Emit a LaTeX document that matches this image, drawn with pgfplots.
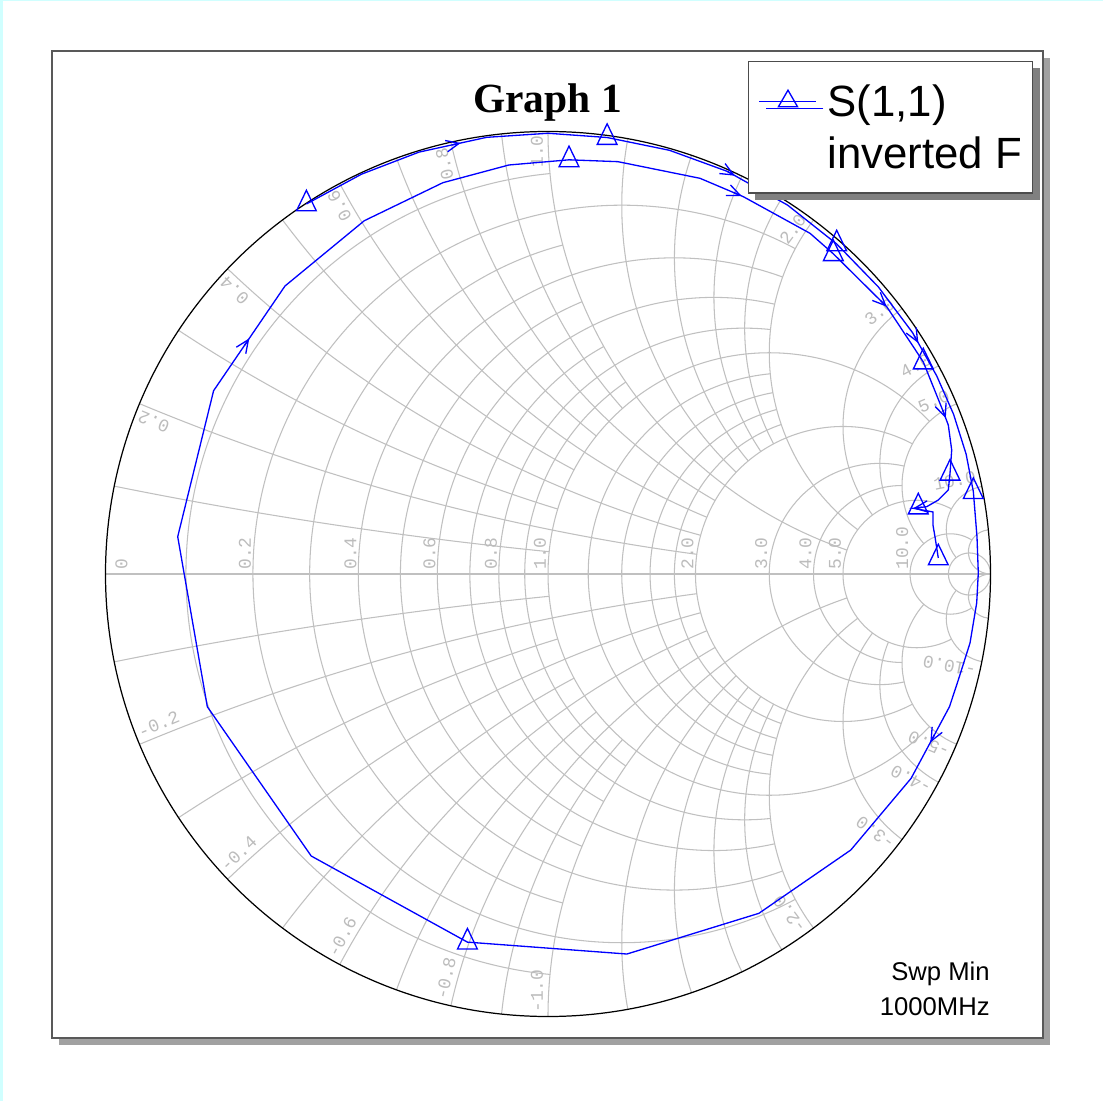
\documentclass[border=0pt]{standalone}
\usepackage{fontspec}
\setmainfont{Liberation Sans}
\newfontfamily\serifb{Liberation Serif}
\newfontfamily\monof{Liberation Mono}
\usepackage{pgfplots}
\pgfplotsset{compat=1.18}
\usetikzlibrary{arrows.meta,shadows}
\definecolor{gridc}{RGB}{192,192,192}
\definecolor{labc}{RGB}{188,188,188}
\definecolor{cyanl}{RGB}{208,255,255}
\definecolor{blueline}{RGB}{0,0,255}
\newcommand{\U}{8.85cm}
\tikzset{grd/.style={draw=gridc, line width=0.6pt},
  rlab/.style={font=\monof\fontsize{10.2}{12}\selectfont, text=labc, inner xsep=0.08cm, inner ysep=0.03cm},
  xlab/.style={font=\monof\fontsize{10.2}{12}\selectfont, text=labc, inner xsep=0.07cm, inner ysep=0.09cm}}
% resistance circle r truncated at |x|<=xm
\newcommand{\Rc}[2]{\draw[grd] (axis cs:{#1/(1+#1)+cos(180-2*atan(#2/(1+#1)))/(1+#1)},{sin(180-2*atan(#2/(1+#1)))/(1+#1)}) arc[start angle={180-2*atan(#2/(1+#1))}, end angle={180+2*atan(#2/(1+#1))}, radius={\U/(1+#1)}];}
\newcommand{\RcF}[1]{\draw[grd] (axis cs:{#1/(1+#1)},0) circle[radius={\U/(1+#1)}];}
% reactance arcs +-x truncated at r<=rm
\newcommand{\Xa}[2]{%
\draw[grd] (axis cs:{1+cos(270-2*atan(#1))/#1},{1/#1+sin(270-2*atan(#1))/#1}) arc[start angle={270-2*atan(#1)}, end angle={270-2*atan(#1/(1+#2))}, radius={\U/#1}];
\draw[grd] (axis cs:{1+cos(90+2*atan(#1))/#1},{-1/#1+sin(90+2*atan(#1))/#1}) arc[start angle={90+2*atan(#1)}, end angle={90+2*atan(#1/(1+#2))}, radius={\U/#1}];}
\newcommand{\XaF}[1]{%
\draw[grd] (axis cs:{1+cos(270-2*atan(#1))/#1},{1/#1+sin(270-2*atan(#1))/#1}) arc[start angle={270-2*atan(#1)}, end angle=270, radius={\U/#1}];
\draw[grd] (axis cs:{1+cos(90+2*atan(#1))/#1},{-1/#1+sin(90+2*atan(#1))/#1}) arc[start angle={90+2*atan(#1)}, end angle=90, radius={\U/#1}];}
\newcommand{\RL}[2]{\node[rlab, rotate=90, anchor=south west] at (axis cs:{#1},0) {#2};}
\newcommand{\XL}[2]{%
\node[xlab, rotate={180-2*atan(#1)}, anchor=south east] at (axis cs:{cos(180-2*atan(#1))},{sin(180-2*atan(#1))}) {#2};
\node[xlab, rotate={2*atan(#1)}, anchor=south west] at (axis cs:{cos(180+2*atan(#1))},{sin(180+2*atan(#1))}) {-#2};}
\begin{document}
\begin{tikzpicture}
\fill[black!37] (0.14,-0.14) rectangle (19.96,19.60);
\begin{axis}[
  at={(0,0)}, anchor=south west,
  x=8.85cm, y=8.85cm,
  xmin=-1.12090, xmax=1.11864, ymin=-1.04859, ymax=1.18192,
  xtick=\empty, ytick=\empty,
  axis line style={draw=black!65, line width=0.8pt},
  axis background/.style={fill=white},
  legend cell align=left,
  legend style={at={(0.70202,0.99018)}, anchor=north west, draw=black!70, line width=0.7pt, fill=white,
    font=\fontsize{24.9}{29}\selectfont,
    inner xsep=0.21cm, inner ysep=0.306cm, row sep=0.048cm, column sep=0.21cm,
    nodes={inner sep=0pt, text height=0.8cm, text depth=0.186cm},
    drop shadow={shadow xshift=0.14cm, shadow yshift=-0.14cm, fill=black!50, opacity=1}},
]
% ---- Smith chart grid ----
\Rc{0.1}{1}\Rc{0.2}{2}\Rc{0.3}{1}\Rc{0.4}{2}\Rc{0.5}{1}\Rc{0.6}{2}\Rc{0.7}{1}\Rc{0.8}{2}\Rc{0.9}{1}
\Rc{1}{5}\Rc{1.2}{2}\Rc{1.4}{2}\Rc{1.6}{2}\Rc{1.8}{2}\Rc{2}{5}\Rc{3}{5}\Rc{4}{5}\Rc{5}{10}\Rc{10}{20}\RcF{20}
\Xa{0.1}{1}\Xa{0.2}{2}\Xa{0.3}{1}\Xa{0.4}{2}\Xa{0.5}{1}\Xa{0.6}{2}\Xa{0.7}{1}\Xa{0.8}{2}\Xa{0.9}{1}
\Xa{1}{5}\Xa{1.2}{2}\Xa{1.4}{2}\Xa{1.6}{2}\Xa{1.8}{2}\Xa{2}{5}\Xa{3}{5}\Xa{4}{5}\Xa{5}{10}\Xa{10}{20}\XaF{20}
\draw[grd] (axis cs:-1,0) -- (axis cs:1,0);
\draw[black, line width=0.7pt] (axis cs:0,0) circle[radius=\U];
\RL{-0.946}{0}\RL{-0.66667}{0.2}\RL{-0.42857}{0.4}\RL{-0.25}{0.6}\RL{-0.11111}{0.8}\RL{0}{1.0}
\RL{0.33333}{2.0}\RL{0.5}{3.0}\RL{0.6}{4.0}\RL{0.66667}{5.0}\RL{0.81818}{10.0}
\XL{0.2}{0.2}\XL{0.4}{0.4}\XL{0.6}{0.6}\XL{0.8}{0.8}\XL{1}{1.0}\XL{2}{2.0}\XL{3}{3.0}\XL{4}{4.0}\XL{5}{5.0}\XL{10}{10.0}
% ---- S(1,1) trace ----
\addplot[blueline, line width=0.75pt, mark=none,
  legend image code/.code={\draw[mark=triangle, mark size=6.3pt, mark repeat=2, mark phase=2] plot coordinates {(0cm,0cm) (0.57cm,0cm) (1.14cm,0cm)};}]
table {
x y
-0.5460 0.8362
-0.4213 0.9036
-0.2915 0.9534
-0.1387 0.9868
0.0000 0.9960
0.1336 0.9864
0.2745 0.9575
0.4051 0.9099
0.5413 0.8337
0.6524 0.7458
0.7464 0.6489
0.8239 0.5453
0.8785 0.4476
0.9165 0.3610
0.9449 0.2709
0.9612 0.1862
0.9695 0.0836
0.9724 0.0023
0.9688 -0.0655
0.9537 -0.1559
0.9272 -0.2395
0.9073 -0.2999
0.8206 -0.4617
0.6843 -0.6237
0.4766 -0.7668
0.1783 -0.8588
-0.1821 -0.8319
-0.5351 -0.6373
-0.7699 -0.2999
-0.8368 0.0843
-0.7557 0.4142
-0.5944 0.6508
-0.4151 0.7984
-0.2375 0.8843
-0.0884 0.9243
0.0475 0.9360
0.1580 0.9318
0.3435 0.8942
0.4414 0.8527
0.5921 0.7699
0.6448 0.7236
0.7654 0.6041
0.8255 0.5137
0.8481 0.4791
0.8933 0.3668
0.9046 0.3367
0.9123 0.2802
0.9085 0.2276
0.9046 0.1898
0.8820 0.1672
0.8558 0.1521
0.8255 0.1485
0.8701 0.1401
0.8701 0.1100
0.8746 0.0836
0.8820 0.0362
};
\addlegendentry{S(1,1)}
\addplot[blueline, only marks, mark=triangle, mark size=6.5pt, mark options={line width=0.75pt, yscale=1.2}, forget plot]
table {
x y
-0.5460 0.8362
0.1336 0.9864
0.6524 0.7458
0.9612 0.1862
-0.1821 -0.8319
0.0475 0.9360
0.6448 0.7236
0.8481 0.4791
0.9085 0.2276
0.8368 0.1514
0.8820 0.0362
};
\addplot[blueline, line width=0.75pt, quiver={u=\thisrow{u}, v=\thisrow{v}}, -{Straight Barb[length=0.26cm, width=0.23cm]}, forget plot]
table {
x y u v
-0.2168 0.9697 0.0195 0.0043
0.4051 0.9099 0.0175 -0.0098
0.4193 0.8621 0.0184 -0.0078
0.8271 0.5395 0.0098 -0.0175
0.7512 0.6182 0.0142 -0.0141
0.8920 0.3705 0.0070 -0.0187
0.8454 0.1509 -0.0199 -0.0024
0.8734 -0.3632 -0.0094 -0.0176
-0.6863 0.5160 0.0113 0.0165
};
\addlegendimage{empty legend}
\addlegendentry{inverted F}
\node[anchor=base, inner sep=0pt, font=\serifb\bfseries\fontsize{23.6}{28}\selectfont] at (axis cs:-0.0011,1.0418) {Graph 1};
\node[anchor=base east, inner sep=0pt, font=\fontsize{14.6}{17}\selectfont] at (axis cs:0.9989,-0.9175) {Swp Min};
\node[anchor=base east, inner sep=0pt, font=\fontsize{14.6}{17}\selectfont] at (axis cs:0.9989,-0.9966) {1000MHz};
\end{axis}
\pgfresetboundingbox
\path (-1.04,-1.26) rectangle (21.02,20.76);
\fill[cyanl] (-1.04,-1.26) rectangle (-0.98,20.76);
\fill[cyanl] (-1.04,20.74) rectangle (21.02,20.76);
\end{tikzpicture}
\end{document}
